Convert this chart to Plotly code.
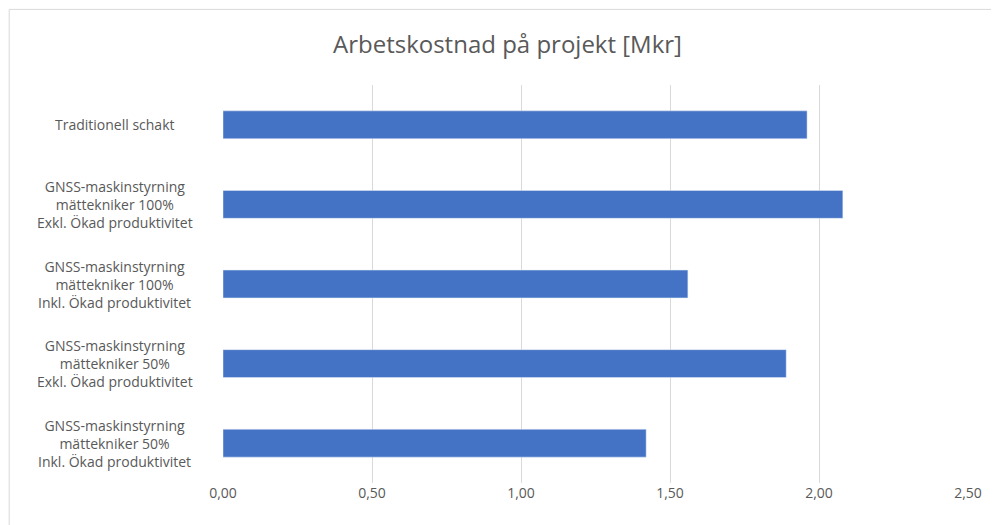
import plotly.graph_objects as go

categories = [
    "Traditionell schakt",
    "GNSS-maskinstyrning<br>mättekniker 100%<br>Exkl. Ökad produktivitet",
    "GNSS-maskinstyrning<br>mättekniker 100%<br>Inkl. Ökad produktivitet",
    "GNSS-maskinstyrning<br>mättekniker 50%<br>Exkl. Ökad produktivitet",
    "GNSS-maskinstyrning<br>mättekniker 50%<br>Inkl. Ökad produktivitet",
]
values = [1.96, 2.08, 1.56, 1.89, 1.42]
tick_vals = [0, 0.5, 1.0, 1.5, 2.0, 2.5]
tick_text = ["0,00", "0,50", "1,00", "1,50", "2,00", "2,50"]

fig = go.Figure(go.Bar(
    x=values, y=categories, orientation="h",
    marker_color="#4472C4",
))

# category labels centred like the original
for c in categories:
    fig.add_annotation(x=-0.145, xref="paper", y=c, yref="y", text=c,
                       showarrow=False, xanchor="center", align="center",
                       font=dict(size=14, color="#595959"))

fig.update_layout(
    width=999, height=525,
    paper_bgcolor="white", plot_bgcolor="white",
    font=dict(family="Open Sans, sans-serif", size=14, color="#595959"),
    title=dict(text="Arbetskostnad på projekt [Mkr]", x=0.5, y=0.93,
               yanchor="middle", font=dict(size=24, color="#595959")),
    margin=dict(l=215, r=39, t=77, b=50),
    bargap=0.65,
    showlegend=False,
    shapes=[dict(type="rect", xref="paper", yref="paper", x0=-0.287, x1=1.051,
                 y0=-0.123, y1=1.19, line=dict(color="#D9D9D9", width=1))],
)
fig.update_xaxes(range=[0, 2.5], tickvals=tick_vals, ticktext=tick_text,
                 showgrid=True, gridcolor="#D9D9D9", zeroline=False,
                 showline=False, ticks="")
fig.update_yaxes(autorange="reversed", showgrid=False, ticks="",
                 showline=False, showticklabels=False)

fig.write_html("out.html")
